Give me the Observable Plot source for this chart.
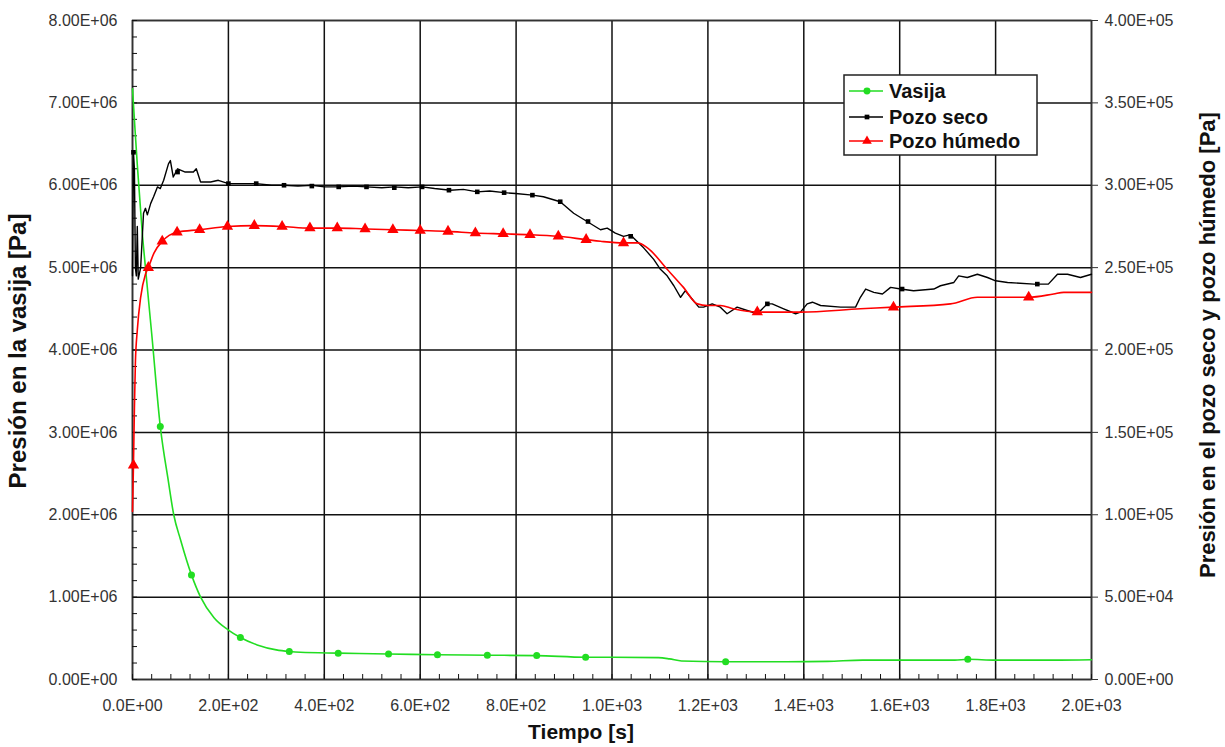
<!DOCTYPE html>
<html><head><meta charset="utf-8">
<script src="https://cdn.jsdelivr.net/npm/d3@7"></script>
<script src="https://cdn.jsdelivr.net/npm/@observablehq/plot@0.6"></script>
<style>
body{margin:0;background:#fff;}
#wrap{position:relative;width:1225px;height:747px;overflow:hidden;}
#legend{position:absolute;left:843px;top:74px;}
</style></head>
<body><div id="wrap"></div>
<script>
// ---- Data ----
// Vasija: presión en la vasija [Pa], eje izquierdo (valores x1e6)
const tiempoVasija = [0, 5, 10, 15, 20, 27, 40, 58, 75, 86, 100, 123, 142, 170, 200, 225, 260, 300, 327, 350, 429, 533, 636, 740, 843, 945, 1000, 1097, 1120, 1145, 1237, 1364, 1450, 1523, 1715, 1742, 1800, 1919, 2000];
const presionVasija = [7.17, 6.7, 6.25, 5.85, 5.45, 5.0, 4.2, 3.07, 2.4, 2.0, 1.7, 1.27, 1.0, 0.75, 0.6, 0.51, 0.42, 0.36, 0.34, 0.33, 0.32, 0.31, 0.30, 0.295, 0.29, 0.27, 0.27, 0.265, 0.25, 0.225, 0.215, 0.215, 0.22, 0.235, 0.235, 0.245, 0.235, 0.235, 0.24];
const marcasVasijaT = [58, 123, 225, 327, 429, 534, 636, 740, 843, 945, 1237, 1742];
const marcasVasijaP = [3.07, 1.27, 0.51, 0.34, 0.32, 0.31, 0.30, 0.295, 0.29, 0.27, 0.215, 0.245];

// Pozo seco: eje derecho (valores x1e5 Pa)
const tiempoSeco = [0, 2, 4, 6, 8, 10, 12, 17, 23, 27, 31, 38, 44, 52, 58, 65, 75, 79, 85, 94, 110, 127, 133, 142, 163, 179, 200, 230, 258, 290, 316, 345, 374, 400, 430, 460, 488, 520, 546, 575, 604, 630, 663, 690, 719, 745, 775, 799, 834, 857, 892, 920, 948, 976, 990, 1007, 1024, 1039, 1045, 1066, 1087, 1101, 1115, 1129, 1143, 1153, 1164, 1181, 1191, 1209, 1226, 1240, 1261, 1282, 1303, 1324, 1334, 1358, 1383, 1393, 1407, 1418, 1435, 1477, 1508, 1518, 1529, 1546, 1564, 1581, 1602, 1629, 1671, 1685, 1713, 1723, 1741, 1762, 1783, 1800, 1825, 1880, 1910, 1929, 1950, 1977, 2000];
const presionSeco = [2.45, 3.2, 3.1, 2.5, 2.45, 2.75, 2.43, 2.5, 2.83, 2.86, 2.82, 2.89, 2.93, 2.99, 2.98, 3.03, 3.13, 3.15, 3.05, 3.10, 3.08, 3.08, 3.10, 3.02, 3.02, 3.03, 3.01, 3.01, 3.01, 3.0, 3.0, 2.995, 3.0, 2.99, 2.99, 2.995, 2.99, 2.985, 2.99, 2.985, 2.99, 2.98, 2.97, 2.975, 2.96, 2.965, 2.955, 2.95, 2.94, 2.93, 2.90, 2.83, 2.78, 2.73, 2.74, 2.71, 2.69, 2.70, 2.68, 2.62, 2.55, 2.49, 2.45, 2.39, 2.32, 2.36, 2.32, 2.26, 2.26, 2.28, 2.26, 2.22, 2.26, 2.24, 2.22, 2.28, 2.28, 2.25, 2.22, 2.23, 2.28, 2.29, 2.27, 2.26, 2.26, 2.32, 2.37, 2.35, 2.34, 2.38, 2.37, 2.36, 2.37, 2.39, 2.41, 2.45, 2.44, 2.46, 2.44, 2.42, 2.41, 2.40, 2.40, 2.46, 2.46, 2.44, 2.46];
const marcasSecoT = [2, 94, 200, 258, 316, 374, 430, 488, 546, 604, 660, 719, 775, 834, 892, 950, 1039, 1324, 1605, 1887];
const marcasSecoP = [3.2, 3.08, 3.01, 3.01, 3.0, 2.995, 2.99, 2.99, 2.985, 2.99, 2.97, 2.96, 2.955, 2.94, 2.90, 2.78, 2.69, 2.28, 2.37, 2.40];

// Pozo húmedo: eje derecho (valores x1e5 Pa)
const tiempoHumedo = [0, 2, 4, 6, 10, 17, 27, 33, 45, 62, 93, 140, 198, 254, 312, 370, 427, 485, 543, 600, 658, 715, 773, 829, 888, 946, 976, 1024, 1053, 1074, 1115, 1149, 1178, 1199, 1226, 1253, 1303, 1393, 1518, 1587, 1706, 1762, 1869, 1921, 1942, 2000];
const presionHumedo = [1.02, 1.30, 1.65, 1.92, 2.12, 2.32, 2.46, 2.50, 2.59, 2.66, 2.715, 2.73, 2.75, 2.755, 2.75, 2.74, 2.74, 2.735, 2.73, 2.725, 2.72, 2.71, 2.705, 2.70, 2.69, 2.67, 2.66, 2.65, 2.65, 2.62, 2.49, 2.38, 2.28, 2.27, 2.27, 2.25, 2.23, 2.23, 2.25, 2.26, 2.28, 2.32, 2.32, 2.34, 2.35, 2.35];
const marcasHumedoT = [2, 33, 62, 93, 140, 198, 254, 312, 370, 427, 485, 543, 600, 658, 715, 773, 829, 888, 946, 1024, 1303, 1587, 1869];
const marcasHumedoP = [1.30, 2.50, 2.66, 2.715, 2.73, 2.75, 2.755, 2.75, 2.74, 2.74, 2.735, 2.73, 2.725, 2.72, 2.71, 2.705, 2.70, 2.69, 2.67, 2.65, 2.23, 2.26, 2.32];

// Ticks
const xTicks = [0, 200, 400, 600, 800, 1000, 1200, 1400, 1600, 1800, 2000];
const xMinor = d3.range(0, 2001, 40);
const yTicks = [0, 1e6, 2e6, 3e6, 4e6, 5e6, 6e6, 7e6, 8e6];
const yMinor = d3.range(0, 8e6 + 1, 2e5);
const ratioDerecho = 20; // 8E6 izquierda == 4E5 derecha

const series = [
  {name: "Vasija", color: "#22dd22", symbol: "circle"},
  {name: "Pozo seco", color: "#000000", symbol: "square"},
  {name: "Pozo húmedo", color: "#ff0000", symbol: "triangle"}
];

// ---- helpers ----
function sci(v, digits) {
  if (v === 0) return (0).toFixed(digits) + "E+00";
  let e = Math.floor(Math.log10(Math.abs(v)) + 1e-9);
  const m = v / Math.pow(10, e);
  return m.toFixed(digits) + "E" + (e < 0 ? "-" : "+") + String(Math.abs(e)).padStart(2, "0");
}
const zip = (T, P, k) => T.map((t, i) => ({t, p: P[i] * k}));

const vasija = zip(tiempoVasija, presionVasija, 1e6);
const vasijaM = zip(marcasVasijaT, marcasVasijaP, 1e6);
const seco = zip(tiempoSeco, presionSeco, 1e5 * ratioDerecho);
const secoM = zip(marcasSecoT, marcasSecoP, 1e5 * ratioDerecho);
const humedo = zip(tiempoHumedo, presionHumedo, 1e5 * ratioDerecho);
const humedoM = zip(marcasHumedoT, marcasHumedoP, 1e5 * ratioDerecho);

const font = "'Liberation Sans', Arial, sans-serif";

const chart = Plot.plot({
  width: 1225,
  height: 747,
  marginLeft: 132,
  marginRight: 134,
  marginTop: 20,
  marginBottom: 68,
  style: {fontFamily: font, fontSize: "16px", background: "#fff", color: "#111", overflow: "visible"},
  x: {domain: [0, 2000]},
  y: {domain: [0, 8e6]},
  marks: [
    Plot.gridX(xTicks, {stroke: "#111", strokeOpacity: 1, strokeWidth: 1.5}),
    Plot.gridY(yTicks, {stroke: "#111", strokeOpacity: 1, strokeWidth: 1.5}),
    Plot.frame({stroke: "#333", strokeWidth: 1.5}),
    // minor inward ticks
    Plot.axisY({anchor: "left", ticks: yMinor, tickSize: -5, tickFormat: () => "", label: null, stroke: "#111"}),
    Plot.axisX({anchor: "bottom", ticks: xMinor, tickSize: -5, tickFormat: () => "", label: null, stroke: "#111"}),
    // tick labels
    Plot.axisY({anchor: "left", ticks: yTicks, tickSize: 0, tickPadding: 15, tickFormat: d => sci(d, 2), label: null, fill: "#333", fontSize: 16}),
    Plot.axisY({anchor: "right", ticks: yTicks, tickSize: 6, tickPadding: 7, tickFormat: d => sci(d / ratioDerecho, 2), label: null, fill: "#333", stroke: "#333", fontSize: 16}),
    Plot.axisX({anchor: "bottom", ticks: xTicks, tickSize: 0, tickPadding: 20, tickFormat: d => sci(d, 1), label: null, fill: "#333", fontSize: 16}),
    // axis titles
    Plot.text(["Tiempo [s]"], {frameAnchor: "bottom", dx: -31, dy: 53, fontSize: 21, fontWeight: "bold", fill: "#111", textAnchor: "middle", lineAnchor: "middle"}),
    Plot.text(["Presión en la vasija [Pa]"], {frameAnchor: "left", dx: -114, dy: 1, rotate: -90, fontSize: 24, fontWeight: "bold", fill: "#111", textAnchor: "middle", lineAnchor: "middle"}),
    Plot.text(["Presión en el pozo seco y pozo húmedo [Pa]"], {frameAnchor: "right", dx: 116, dy: -5, rotate: -90, fontSize: 22, fontWeight: "bold", fill: "#111", textAnchor: "middle", lineAnchor: "middle"}),
    // series
    Plot.line(vasija, {x: "t", y: "p", stroke: series[0].color, strokeWidth: 1.6, curve: "monotone-x"}),
    Plot.line(seco, {x: "t", y: "p", stroke: series[1].color, strokeWidth: 1.4}),
    Plot.line(humedo, {x: "t", y: "p", stroke: series[2].color, strokeWidth: 1.6, curve: "monotone-x"}),
    Plot.dot(vasijaM, {x: "t", y: "p", fill: series[0].color, r: 3.5, symbol: "circle"}),
    Plot.dot(secoM, {x: "t", y: "p", fill: series[1].color, r: 2.6, symbol: "square"}),
    Plot.dot(humedoM, {x: "t", y: "p", fill: series[2].color, r: 4.2, symbol: "triangle"})
  ]
});
const wrap = document.getElementById("wrap");
wrap.appendChild(chart);

// ---- legend ----
const leg = d3.select(wrap).append("svg").attr("id", "legend").attr("width", 196).attr("height", 83);
leg.append("rect").attr("x", 1).attr("y", 1).attr("width", 193).attr("height", 80)
  .attr("fill", "#fff").attr("stroke", "#222").attr("stroke-width", 1.5);
const rowsY = [17, 43, 67];
series.forEach((s, i) => {
  const g = leg.append("g").attr("transform", `translate(0,${rowsY[i]})`);
  g.append("line").attr("x1", 6).attr("x2", 40).attr("y1", 0).attr("y2", 0).attr("stroke", s.color).attr("stroke-width", 1.6);
  const sym = s.symbol === "circle" ? d3.symbolCircle : s.symbol === "square" ? d3.symbolSquare : d3.symbolTriangle;
  const size = s.symbol === "circle" ? 38 : s.symbol === "square" ? 22 : 40;
  g.append("path").attr("d", d3.symbol(sym, size)()).attr("transform", "translate(24,0)").attr("fill", s.color);
  g.append("text").attr("x", 46).attr("y", 0).attr("dy", "0.36em").text(s.name)
    .attr("font-family", font).attr("font-weight", "bold").attr("font-size", 20).attr("fill", "#111");
});
</script>
</body></html>
